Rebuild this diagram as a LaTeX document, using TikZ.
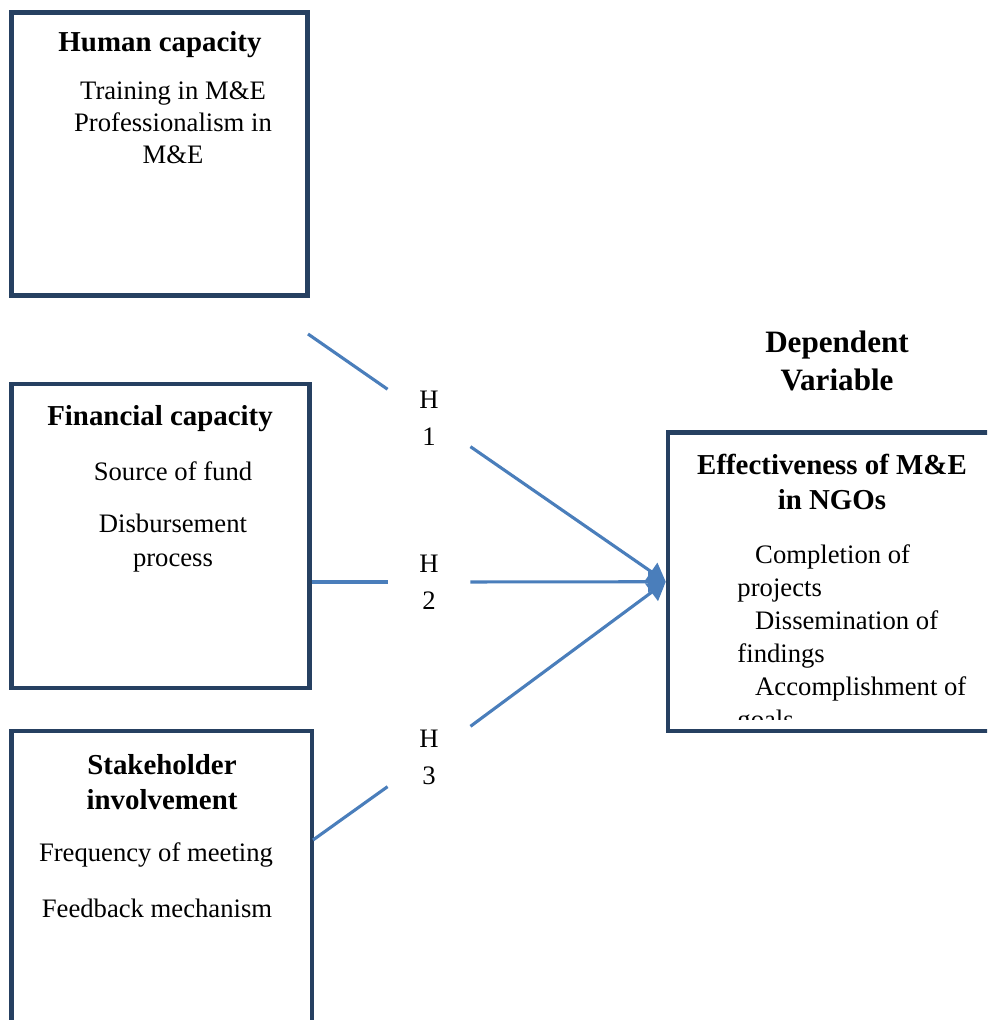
\documentclass[tikz,border=0pt]{standalone}
\usepackage{fontspec}
\setmainfont{Liberation Serif}
\usetikzlibrary{positioning, arrows.meta, fit}

\definecolor{boxblue}{RGB}{38,64,97}
\definecolor{linkblue}{RGB}{74,126,187}

\begin{document}
\begin{tikzpicture}[
		x=0.45pt, y=-0.45pt,
		box/.style={draw=boxblue, line width=2pt, inner sep=0pt},
		head/.style={font=\fontsize{13}{15.5}\selectfont\bfseries, align=center, inner sep=0pt},
		body/.style={font=\fontsize{12}{14.3}\selectfont, align=center, inner sep=0pt},
		hyp/.style={fill=white, minimum width=36.9pt, minimum height=31.5pt, inner sep=0pt,
			font=\fontsize{12}{16.6}\selectfont, align=center},
		link/.style={draw=linkblue, line width=1.4pt},
		tip/.style={-{Triangle[length=8pt, width=9.5pt]}}
		]
		
		\clip (0,0) rectangle (987,1020);
		
		% --- INDEPENDENT VARIABLES ---
		% Human capacity
		\node[box, fit={(11.5,12.5) (307.5,295.5)}] (hum) {};
		\node[head] (hum_t) at (160,45) {Human capacity};
		\node[body] (hum_b) at (173,123) {Training in M\&E\\Professionalism in\\M\&E};
		
		% Financial capacity
		\node[box, fit={(11.5,384) (309.5,688)}] (fin) {};
		\node[head] (fin_t) at (160,419) {Financial capacity};
		\node[body] (fin_b1) at (173,471) {Source of fund};
		\node[body] (fin_b2) at (173,543) {Disbursement\\[1pt]process};
		
		% Stakeholder involvement
		\node[box, fit={(11.5,731) (312,1045)}] (stk) {};
		\node[head] (stk_t) at (162,782) {Stakeholder\\involvement};
		\node[body] (stk_b1) at (156,855) {Frequency of meeting};
		\node[body] (stk_b2) at (157,908) {Feedback mechanism};
		
		% --- DEPENDENT VARIABLE ---
		\node[font=\fontsize{14}{17}\selectfont\bfseries, align=center] (dep) at (837,361) {Dependent\\Variable};
		\node[box, fit={(668,432.5) (1010,731)}] (eff) {};
		\node[head] (eff_t) at (832,482) {Effectiveness of M\&E\\in NGOs};
		\begin{scope}
			\clip (680,445) rectangle (980,719);
			\node[font=\fontsize{12}{14.9}\selectfont, align=left, inner sep=0pt, anchor=north west] (eff_b) at (737,544)
			{\hspace*{8pt}Completion of\\projects\\\hspace*{8pt}Dissemination of\\findings\\\hspace*{8pt}Accomplishment of\\goals};
		\end{scope}
		
		% --- HYPOTHESES ---
		\node[hyp] (h1) at (429,418) {H\\1};
		\node[hyp] (h2) at (429,582) {H\\2};
		\node[hyp] (h3) at (429,757) {H\\3};
		
		\coordinate (s1) at (308,334);
		\coordinate (s2) at (fin.east |- h2);
		\coordinate (s3) at (313,840);
		
		% --- LINKS ---
		\draw[link] (s1) -- (h1);
		\draw[link] (s2) -- (h2);
		\draw[link] (s3) -- (h3);
		\draw[link, tip] (h1) -- (eff.west);
		\draw[link, tip] (h2) -- (eff.west);
		\draw[link, tip] (h3) -- (eff.west);
		
	\end{tikzpicture}
\end{document}
